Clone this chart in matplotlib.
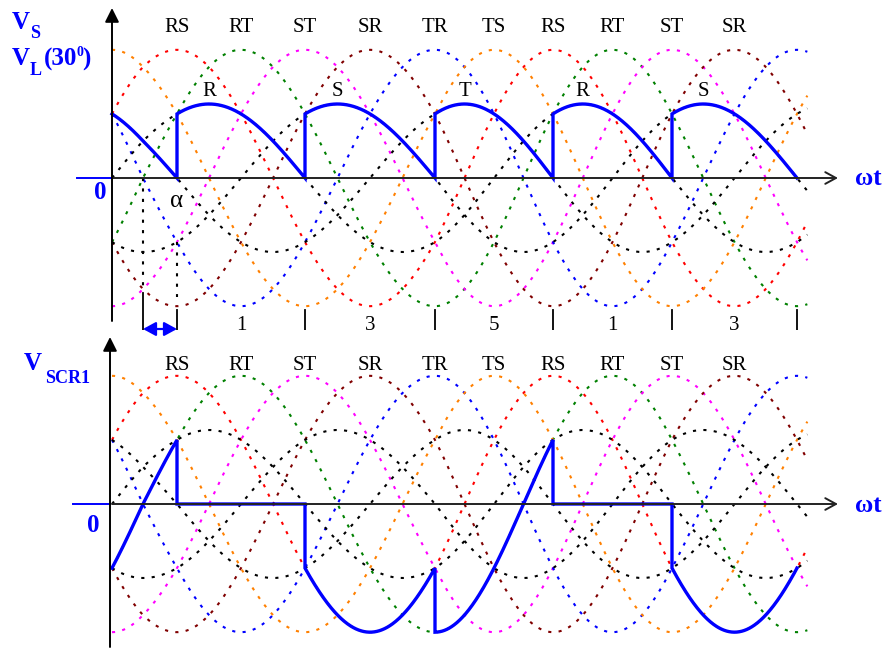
import matplotlib
matplotlib.use("Agg")
import matplotlib.pyplot as plt
import numpy as np

plt.rcParams['font.family'] = ['Liberation Serif', 'DejaVu Serif']

# phase voltages (unit amplitude), shift in degrees
PHASES = ["R", "S", "T"]
PHASE_SHIFT = [0, -120, 120]

# line-to-line voltages and their dotted colours
LINE_PAIRS = ["RS", "RT", "ST", "SR", "TR", "TS"]
LINE_COLORS = ["#ff0000", "#008000", "#ff00ff", "#800000", "#0000ff", "#ff8000"]

# conducting phase in each interval (alpha = 30 deg)
ALPHA = 30
SEG_START = [0, 60, 180, 300, 420, 540]
SEG_END = [60, 180, 300, 420, 540, 660]
SEG_PHASE = ["T", "R", "S", "T", "R", "S"]

# labels
PEAK_LABELS = ["RS", "RT", "ST", "SR", "TR", "TS", "RS", "RT", "ST", "SR"]
PEAK_DEG = [60, 120, 180, 240, 300, 360, 420, 480, 540, 600]
SECTOR_LABELS = ["1", "3", "5", "1", "3"]
SECTOR_TICKS = [30, 60, 180, 300, 420, 540, 660]
CURVE_END = 670

# drawing scale: the sketch is not evenly spaced, map degrees to pixels
KNOT_DEG = [-110, 0, 30, 60, 180, 300, 420, 540, 660, 748]
KNOT_PX = [0, 112, 143, 177, 305, 435, 553, 672, 797, 888]
W, H = 888, 651
PXU = 74.0  # pixels per unit phase amplitude

BLUE = "#0000ff"
DOT = (0, (1.5, 3.5))


def fwd(d):
    return np.interp(d, KNOT_DEG, KNOT_PX)


def inv(p):
    return np.interp(p, KNOT_PX, KNOT_DEG)


def vphase(name, th):
    k = PHASES.index(name)
    return np.sin(np.radians(th + PHASE_SHIFT[k]))


def vline(pair, th):
    return vphase(pair[0], th) - vphase(pair[1], th)


fig = plt.figure(figsize=(W / 100, H / 100), dpi=100)
ax_top = fig.add_axes([0, 1 - 330 / H, 1, 330 / H])
ax_bot = fig.add_axes([0, 0, 1, 321 / H])
ax_top.set_ylim(-(330 - 178) / PXU, 178 / PXU)
ax_bot.set_ylim(-(651 - 504) / PXU, (504 - 330) / PXU)

th = np.linspace(0, CURVE_END, 1400)
for ax in (ax_top, ax_bot):
    ax.set_xscale('function', functions=(fwd, inv))
    ax.set_xlim(KNOT_DEG[0], KNOT_DEG[-1])
    ax.axis('off')
    for pair, col in zip(LINE_PAIRS, LINE_COLORS):
        ax.plot(th, vline(pair, th), color=col, lw=1.5, ls=DOT)
    for p in PHASES:
        ax.plot(th, vphase(p, th), color="black", lw=1.5, ls=DOT)
    # x axis with arrow
    ax.annotate("", xy=(inv(838), 0), xytext=(0, 0),
                arrowprops=dict(arrowstyle="->,head_length=0.55,head_width=0.3",
                                mutation_scale=14, lw=1.4, color="#222222",
                                shrinkA=0, shrinkB=0))

# output voltage (top) and thyristor voltage (bottom)
out_th, out_v, scr_v = [], [], []
for a, b, p in zip(SEG_START, SEG_END, SEG_PHASE):
    t = np.linspace(a, b, 200)
    out_th.append(t)
    out_v.append(vphase(p, t))
    scr_v.append(vphase("R", t) - vphase(p, t))
out_th = np.concatenate(out_th)
out_v = np.concatenate(out_v)
scr_v = np.concatenate(scr_v)

ax_top.plot(out_th, out_v, color=BLUE, lw=2.4, solid_joinstyle='miter')
ax_bot.plot(out_th, scr_v, color=BLUE, lw=2.4, solid_joinstyle='miter')

# y axes
ax_top.annotate("", xy=(0, (178 - 8) / PXU), xytext=(0, -(321 - 178) / PXU),
                arrowprops=dict(arrowstyle="-|>,head_length=0.6,head_width=0.3",
                                mutation_scale=14, lw=1.4, color="black",
                                shrinkA=0, shrinkB=0))
ax_bot.annotate("", xy=(inv(110), (504 - 337) / PXU), xytext=(inv(110), -(647 - 504) / PXU),
                arrowprops=dict(arrowstyle="-|>,head_length=0.6,head_width=0.3",
                                mutation_scale=14, lw=1.4, color="black",
                                shrinkA=0, shrinkB=0))
ax_top.plot([inv(77), 0], [0, 0], color=BLUE, lw=1.4)
ax_bot.plot([inv(73), inv(110)], [0, 0], color=BLUE, lw=1.4)

# line labels above peaks
for ax, ylab in ((ax_top, (178 - 28) / PXU), (ax_bot, (504 - 365) / PXU)):
    for lab, d in zip(PEAK_LABELS, PEAK_DEG):
        ax.text(d, ylab, lab, ha="center", va="center", fontsize=15)

# phase labels above each conducting arc
for a, b, p in zip(SEG_START[1:], SEG_END[1:], SEG_PHASE[1:]):
    ax_top.text(a + 30, (178 - 92) / PXU, p, ha="center", va="center", fontsize=15)

# construction lines for alpha
ax_top.plot([ALPHA, ALPHA], [0, -(287 - 178) / PXU], color="black", lw=1.5, ls=DOT)
ax_top.plot([2 * ALPHA, 2 * ALPHA], [vphase("S", 2 * ALPHA), -(297 - 178) / PXU],
            color="black", lw=1.5, ls=DOT)
for d in SECTOR_TICKS:
    y0 = -(293 - 178) / PXU if d == ALPHA else -(310 - 178) / PXU
    ax_top.plot([d, d], [y0, -(339 - 178) / PXU], color="black", lw=1.3)
ax_top.annotate("", xy=(2 * ALPHA, -(329 - 178) / PXU), xytext=(ALPHA, -(329 - 178) / PXU),
                arrowprops=dict(arrowstyle="<|-|>,head_length=0.55,head_width=0.3",
                                mutation_scale=14, lw=1.6, color=BLUE,
                                shrinkA=0, shrinkB=0))
for lab, a, b in zip(SECTOR_LABELS, SECTOR_TICKS[1:-1], SECTOR_TICKS[2:]):
    ax_top.text((a + b) / 2, -(325 - 178) / PXU, lab, ha="center", va="center", fontsize=15)
ax_top.text(2 * ALPHA, -(201 - 178) / PXU, "α", ha="center", va="center", fontsize=18)


# figure labels in pixel positions
def ftext(x, y, s, **kw):
    fig.text(x / W, 1 - y / H, s, **kw)


bb = dict(color=BLUE, fontweight="bold")
ftext(12, 29, "V", fontsize=18, va="baseline", **bb)
ftext(30, 38, "S", fontsize=13, va="baseline", **bb)
ftext(12, 65, "V", fontsize=18, va="baseline", **bb)
ftext(30, 75, "L", fontsize=13, va="baseline", **bb)
ftext(44, 66, "(30", fontsize=18, va="baseline", **bb)
ftext(76, 56, "0", fontsize=10, va="baseline", **bb)
ftext(82, 66, ")", fontsize=18, va="baseline", **bb)
ftext(24, 370, "V", fontsize=18, va="baseline", **bb)
ftext(45, 383, "SCR1", fontsize=13, va="baseline", **bb)
ftext(100, 192, "0", fontsize=18, ha="center", va="center", **bb)
ftext(93, 525, "0", fontsize=18, ha="center", va="center", **bb)
ftext(868, 178, "ωt", fontsize=18, ha="center", va="center", **bb)
ftext(868, 505, "ωt", fontsize=18, ha="center", va="center", **bb)

fig.savefig("out.png", dpi=100)
